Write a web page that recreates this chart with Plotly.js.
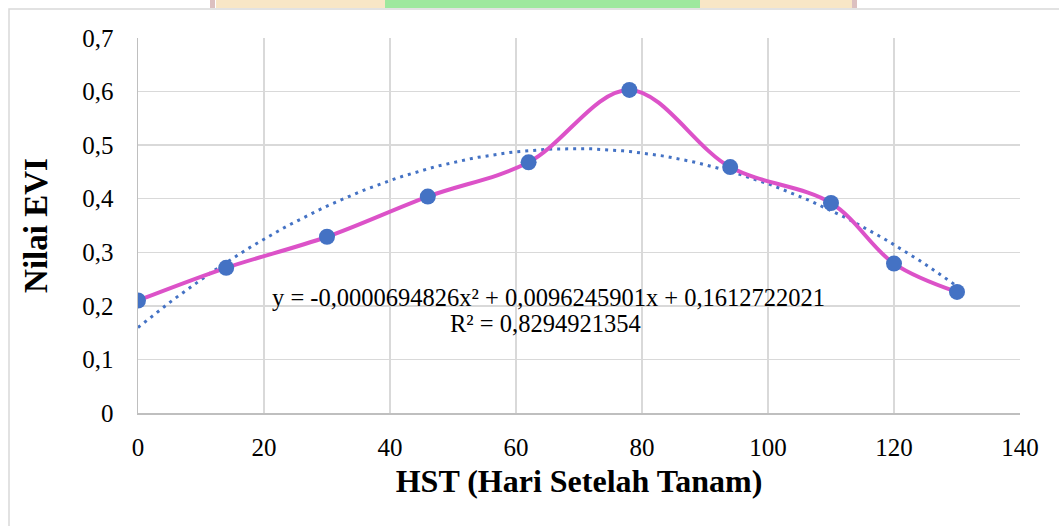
<!DOCTYPE html>
<html>
<head>
<meta charset="utf-8">
<script src="https://cdn.plot.ly/plotly-3.0.1.min.js"></script>
<style>
html,body{margin:0;padding:0;background:#fff;}
#chart{width:1059px;height:526px;}
</style>
</head>
<body>
<div id="chart"></div>
<script>
// Data
const hst = [0, 14, 30, 46, 62, 78, 94, 110, 120, 130];
const evi = [0.210, 0.271, 0.329, 0.404, 0.468, 0.603, 0.459, 0.392, 0.279, 0.226];
const xTickVals = [0, 20, 40, 60, 80, 100, 120, 140];
const yTickVals = [0, 0.1, 0.2, 0.3, 0.4, 0.5, 0.6, 0.7];
const yTickText = ['0', '0,1', '0,2', '0,3', '0,4', '0,5', '0,6', '0,7'];
const equationText = 'y = -0,0000694826x² + 0,0096245901x + 0,1612722021';
const r2Text = 'R² = 0,8294921354';
const xTitle = 'HST (Hari Setelah Tanam)';
const yTitle = 'Nilai EVI';

// Quadratic least-squares fit of the data (polynomial trendline)
function polyFit2(xs, ys) {
  let s = [0,0,0,0,0], t = [0,0,0];
  for (let i = 0; i < xs.length; i++) {
    let p = 1;
    for (let k = 0; k < 5; k++) { s[k] += p; if (k < 3) t[k] += p * ys[i]; p *= xs[i]; }
  }
  const A = [[s[0],s[1],s[2],t[0]],[s[1],s[2],s[3],t[1]],[s[2],s[3],s[4],t[2]]];
  for (let c = 0; c < 3; c++) {
    for (let r = c + 1; r < 3; r++) {
      const f = A[r][c] / A[c][c];
      for (let k = c; k < 4; k++) A[r][k] -= f * A[c][k];
    }
  }
  const b = [0,0,0];
  for (let r = 2; r >= 0; r--) {
    let v = A[r][3];
    for (let k = r + 1; k < 3; k++) v -= A[r][k] * b[k];
    b[r] = v / A[r][r];
  }
  return b; // c0, c1, c2
}
const coef = polyFit2(hst, evi);
const trendX = [], trendY = [];
const xMin = hst[0], xMax = hst[hst.length - 1];
for (let i = 0; i <= 130; i++) {
  const xv = xMin + (xMax - xMin) * i / 130;
  trendX.push(xv);
  trendY.push(coef[0] + coef[1] * xv + coef[2] * xv * xv);
}

const font = 'Liberation Serif, Times New Roman, serif';

const traces = [
  {
    x: trendX, y: trendY, type: 'scatter', mode: 'lines',
    line: {color: '#4472C4', width: 3, dash: '3px,5px'},
    hoverinfo: 'skip', showlegend: false
  },
  {
    x: hst, y: evi, type: 'scatter', mode: 'lines+markers',
    line: {color: '#DC52C8', width: 4, shape: 'spline', smoothing: 1},
    marker: {color: '#4472C4', size: 16},
    showlegend: false
  }
];

// plot area in pixels: left 138, right 1020, top 38, bottom 413
const L = 138, R = 1020, T = 38, B = 413;
const W = 1059, H = 526;
const pw = R - L, ph = B - T;
function px(xp) { return (xp - L) / pw; }
function py(yp) { return (B - yp) / ph; }

const layout = {
  width: W, height: H,
  margin: {l: L, r: W - R, t: T, b: H - B, pad: 0},
  paper_bgcolor: '#ffffff',
  plot_bgcolor: '#ffffff',
  font: {family: font, color: '#000000', size: 25},
  showlegend: false,
  xaxis: {
    range: [0, 140], tickvals: xTickVals, ticktext: xTickVals.map(String),
    showgrid: true, gridcolor: '#d9d9d9', gridwidth: 1.5,
    showline: true, linecolor: '#bfbfbf', linewidth: 1.5,
    zeroline: false, mirror: false,
    ticks: 'outside', ticklen: 11, tickcolor: 'rgba(0,0,0,0)',
    tickfont: {family: font, size: 25, color: '#000'},
    title: {text: '<b>' + xTitle + '</b>', font: {family: font, size: 32, color: '#000'}, standoff: 10}
  },
  yaxis: {
    range: [0, 0.7], tickvals: yTickVals, ticktext: yTickText,
    showgrid: true, gridcolor: '#d9d9d9', gridwidth: 1.5,
    showline: true, linecolor: '#bfbfbf', linewidth: 1.5,
    zeroline: false,
    ticks: 'outside', ticklen: 18, tickcolor: 'rgba(0,0,0,0)',
    tickfont: {family: font, size: 25, color: '#000'},
    title: {text: '<b>' + yTitle + '</b>', font: {family: font, size: 33, color: '#000'}, standoff: 24}
  },
  annotations: [
    {xref: 'paper', yref: 'paper', x: px(548), y: py(297), xanchor: 'center', yanchor: 'middle',
     text: equationText, showarrow: false, font: {family: font, size: 24.5, color: '#000'}},
    {xref: 'paper', yref: 'paper', x: px(545), y: py(323), xanchor: 'center', yanchor: 'middle',
     text: r2Text, showarrow: false, font: {family: font, size: 24.5, color: '#000'}}
  ],
  shapes: [
    // outer chart frame
    {type: 'rect', xref: 'paper', yref: 'paper', x0: px(9), x1: px(1070), y0: py(540), y1: py(9),
     line: {color: '#d9d9d9', width: 1.5}, fillcolor: 'rgba(0,0,0,0)', layer: 'below'},
    // faint watermark remnants above the frame
    {type: 'rect', xref: 'paper', yref: 'paper', x0: px(216), x1: px(852), y0: py(8), y1: py(-5),
     line: {width: 0}, fillcolor: '#f8e6c6', layer: 'below'},
    {type: 'rect', xref: 'paper', yref: 'paper', x0: px(385), x1: px(700), y0: py(8), y1: py(-5),
     line: {width: 0}, fillcolor: '#9ee89e', layer: 'below'},
    {type: 'rect', xref: 'paper', yref: 'paper', x0: px(210), x1: px(215), y0: py(8), y1: py(-5),
     line: {width: 0}, fillcolor: '#dcc0c0', layer: 'below'},
    {type: 'rect', xref: 'paper', yref: 'paper', x0: px(852), x1: px(857), y0: py(8), y1: py(-5),
     line: {width: 0}, fillcolor: '#dcc0c0', layer: 'below'}
  ]
};

Plotly.newPlot('chart', traces, layout, {displayModeBar: false, staticPlot: true});
</script>
</body>
</html>
